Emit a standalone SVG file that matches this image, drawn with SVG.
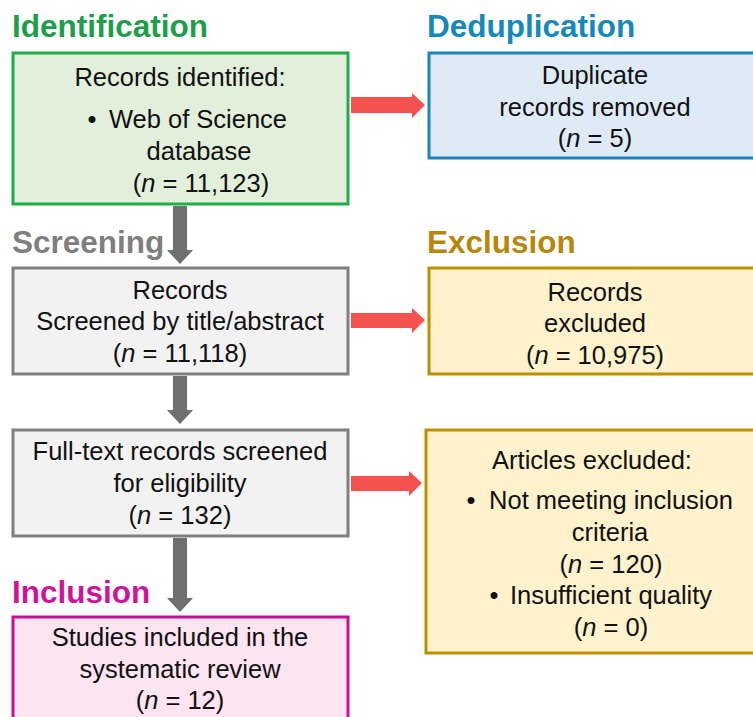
<svg xmlns="http://www.w3.org/2000/svg" width="753" height="717" viewBox="0 0 753 717">
<style>
.t{font-family:"Liberation Sans",Arial,sans-serif;font-size:25.5px;fill:#111;text-anchor:middle}
.h{font-family:"Liberation Sans",Arial,sans-serif;font-size:31.5px;font-weight:bold}
.box{stroke-width:3}
.red{fill:#f4524f}
.gray{fill:#6f6f6f}
</style>
<rect width="753" height="717" fill="#fff"/>
<text class="h" x="12" y="37" fill="#1d9e48">Identification</text>
<text class="h" x="427" y="37" fill="#1589b9">Deduplication</text>
<text class="h" x="12" y="253" fill="#7f7f7f">Screening</text>
<text class="h" x="427" y="253" fill="#b8860b">Exclusion</text>
<text class="h" x="12" y="603" fill="#d0139b">Inclusion</text>

<g id="identified">
<rect class="box" x="13" y="53" width="335" height="151" fill="#e2efda" stroke="#1fad4a"/>
<text class="t" x="180" y="86">Records identified:</text>
<text class="t" x="92" y="128">•</text>
<text class="t" x="198" y="128">Web of Science</text>
<text class="t" x="199" y="160">database</text>
<text class="t" x="201" y="192">(<tspan font-style="italic">n</tspan> = 11,123)</text>
</g>
<g id="duplicates">
<rect class="box" x="429" y="53" width="330" height="105" fill="#deebf7" stroke="#1f85b8"/>
<text class="t" x="595" y="84">Duplicate</text>
<text class="t" x="595" y="116">records removed</text>
<text class="t" x="595" y="147">(<tspan font-style="italic">n</tspan> = 5)</text>
</g>
<g id="screened">
<rect class="box" x="13" y="268" width="335" height="106" fill="#f2f2f2" stroke="#7f7f7f"/>
<text class="t" x="180" y="299">Records</text>
<text class="t" x="180" y="330">Screened by title/abstract</text>
<text class="t" x="180" y="362">(<tspan font-style="italic">n</tspan> = 11,118)</text>
</g>
<g id="excluded">
<rect class="box" x="429" y="268" width="330" height="106" fill="#fff2cc" stroke="#bf9000"/>
<text class="t" x="595" y="301">Records</text>
<text class="t" x="595" y="332">excluded</text>
<text class="t" x="595" y="364">(<tspan font-style="italic">n</tspan> = 10,975)</text>
</g>
<g id="fulltext">
<rect class="box" x="13" y="430" width="335" height="106" fill="#f2f2f2" stroke="#7f7f7f"/>
<text class="t" x="180" y="460">Full-text records screened</text>
<text class="t" x="180" y="492">for eligibility</text>
<text class="t" x="180" y="524">(<tspan font-style="italic">n</tspan> = 132)</text>
</g>
<g id="articles-excluded">
<rect class="box" x="426" y="430" width="330" height="223" fill="#fff2cc" stroke="#bf9000"/>
<text class="t" x="592" y="469">Articles excluded:</text>
<text class="t" x="471" y="509">•</text>
<text class="t" x="611" y="509">Not meeting inclusion</text>
<text class="t" x="610" y="541">criteria</text>
<text class="t" x="611" y="573">(<tspan font-style="italic">n</tspan> = 120)</text>
<text class="t" x="494" y="604">•</text>
<text class="t" x="611" y="604">Insufficient quality</text>
<text class="t" x="611" y="636">(<tspan font-style="italic">n</tspan> = 0)</text>
</g>
<g id="included">
<rect class="box" x="13" y="617" width="335" height="110" fill="#fce4f0" stroke="#cc0d96"/>
<text class="t" x="180" y="646">Studies included in the</text>
<text class="t" x="180" y="678">systematic review</text>
<text class="t" x="180" y="709">(<tspan font-style="italic">n</tspan> = 12)</text>
</g>

<g id="connectors">
<polygon class="red" points="351,97 412,97 412,93 425,105 412,118 412,113 351,113"/>
<polygon class="red" points="351,313 412,313 412,308 425,320 412,333 412,328 351,328"/>
<polygon class="red" points="351,476 409,476 409,471 422,483 409,496 409,491 351,491"/>
<polygon class="gray" points="173,206 187,206 187,250 193,250 180,264 167,250 173,250"/>
<polygon class="gray" points="173,376 187,376 187,410 193,410 180,424 167,410 173,410"/>
<polygon class="gray" points="173,538 187,538 187,598 193,598 180,612 167,598 173,598"/>
</g>
</svg>
